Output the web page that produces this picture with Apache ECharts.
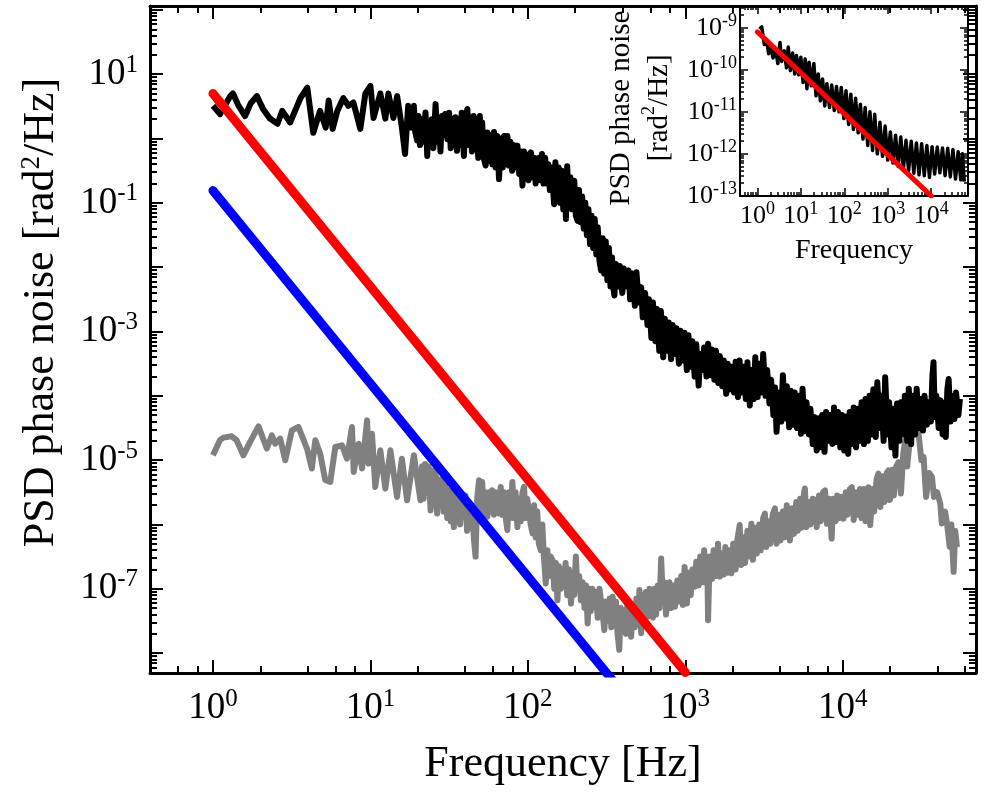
<!DOCTYPE html>
<html>
<head>
<meta charset="utf-8">
<title>PSD phase noise</title>
<script src="https://cdn.jsdelivr.net/npm/echarts@6/dist/echarts.min.js"></script>
<style>
  html, body { margin: 0; padding: 0; background: #fff; }
  #chart { width: 984px; height: 792px; }
</style>
</head>
<body>
<div id="chart"></div>
<script>
// curves, stored as [log10 frequency, log10 PSD]
var blackLog = [
  [0.00,0.51],[0.045,0.38],[0.11,0.66],[0.127,0.70],[0.16,0.52],[0.204,0.35],[0.24,0.55],[0.279,0.66],
  [0.32,0.45],[0.362,0.31],[0.41,0.23],[0.44,0.43],[0.49,0.25],[0.53,0.48],[0.556,0.63],[0.599,0.79],
  [0.637,0.09],[0.68,0.43],[0.716,0.17],[0.735,0.59],[0.76,0.15],[0.79,0.43],[0.828,0.63],[0.86,0.51],
  [0.892,0.56],[0.936,0.15],[0.968,0.70],[1.0,0.82],[1.02,0.32],[1.063,0.70],[1.095,0.31],[1.114,0.70],
  [1.146,0.32],[1.17,0.66],[1.20,0.17],[1.22,-0.24],[1.24,0.51],[1.26,0.17],[1.276,0.51],[1.285,0.1],
  [1.297,-0.03],[1.305,0.35],[1.315,-0.1],[1.325,0.3],[1.335,-0.05],[1.35,0.405],[1.361,-0.27],[1.37,0.25],
  [1.38,-0.1],[1.39,0.3],[1.40,-0.15],[1.414,0.535],[1.425,-0.05],[1.435,0.3],[1.445,-0.2],[1.455,0.35],
  [1.467,0.05],[1.475,0.38],[1.49,-0.01],[1.50,0.4],[1.51,-0.15],[1.52,0.3],[1.531,-0.1],[1.54,0.33],
  [1.55,-0.19],[1.56,0.3],[1.57,-0.1],[1.58,0.4],[1.594,-0.27],[1.605,0.3],[1.616,0.46],[1.625,-0.1],
  [1.635,0.3],[1.645,-0.2],[1.655,0.35],[1.665,-0.15],[1.675,0.3],[1.685,-0.3],[1.695,0.35],[1.70,-0.085],
  [1.71,0.25],[1.72,-0.3],[1.732,-0.42],[1.743,0.095],[1.755,-0.35],[1.765,0.05],[1.775,-0.4],[1.785,0.1],
  [1.795,-0.45],[1.805,0.04],[1.817,-0.63],[1.828,0.0],[1.84,-0.45],[1.85,0.04],[1.86,-0.4],[1.87,0.04],
  [1.88,-0.42],[1.89,-0.05],[1.90,-0.5],[1.91,-0.1],[1.92,-0.45],[1.934,-0.11],[1.945,-0.55],[1.955,-0.2],
  [1.966,-0.73],[1.975,-0.2],[1.985,-0.6],[1.995,-0.25],[2.005,-0.65],[2.02,-0.215],[2.03,-0.6],[2.04,-0.3],
  [2.05,-0.7],[2.06,-0.71],[2.07,-0.3],[2.08,-0.65],[2.09,-0.24],[2.10,-0.7],[2.11,-0.3],[2.12,-0.7],
  [2.13,-0.4],[2.14,-0.8],[2.15,-0.45],[2.167,-1.02],[2.175,-0.37],[2.185,-0.9],[2.195,-0.45],[2.205,-1.0],
  [2.215,-0.5],[2.225,-1.1],[2.235,-0.55],[2.242,-1.25],[2.25,-0.43],[2.26,-1.0],[2.27,-0.6],[2.28,-1.1],
  [2.295,-0.655],[2.305,-1.2],[2.316,-1.28],[2.325,-0.8],[2.335,-1.3],[2.345,-0.9],[2.355,-1.4],[2.365,-1.0],
  [2.375,-1.5],[2.385,-1.1],[2.395,-1.64],[2.405,-1.2],[2.415,-1.7],[2.425,-1.25],[2.435,-1.8],[2.444,-1.38],
  [2.455,-1.9],[2.465,-2.05],[2.475,-1.55],[2.485,-2.1],[2.495,-1.6],[2.505,-2.2],[2.515,-1.7],[2.525,-2.3],
  [2.535,-1.85],[2.545,-2.35],[2.55,-2.44],[2.56,-1.95],[2.575,-2.3],[2.585,-1.98],[2.60,-2.4],[2.61,-2.02],
  [2.625,-2.3],[2.64,-2.05],[2.65,-2.5],[2.665,-2.1],[2.68,-2.6],[2.69,-2.08],[2.705,-2.55],[2.72,-2.31],
  [2.73,-2.78],[2.745,-2.4],[2.76,-2.9],[2.77,-2.5],[2.785,-3.1],[2.795,-2.55],[2.81,-3.15],[2.82,-2.65],
  [2.835,-3.3],[2.845,-2.68],[2.86,-3.4],[2.87,-2.8],[2.885,-3.3],[2.895,-2.86],[2.91,-3.43],[2.92,-2.9],
  [2.935,-3.35],[2.945,-2.95],[2.96,-3.5],[2.97,-2.99],[2.985,-3.45],[2.995,-3.02],[3.01,-3.6],[3.02,-3.06],
  [3.035,-3.55],[3.045,-3.15],[3.06,-3.7],[3.07,-3.2],[3.085,-3.84],[3.095,-3.35],[3.11,-3.6],[3.12,-3.25],
  [3.135,-3.7],[3.145,-3.19],[3.16,-3.68],[3.17,-3.28],[3.185,-3.75],[3.195,-3.3],[3.21,-3.8],[3.22,-3.38],
  [3.235,-3.85],[3.245,-3.45],[3.26,-3.97],[3.27,-3.5],[3.285,-3.9],[3.295,-3.55],[3.31,-3.95],[3.32,-3.47],
  [3.335,-4.02],[3.345,-3.45],[3.36,-3.95],[3.37,-3.55],[3.385,-4.05],[3.395,-3.48],[3.41,-4.15],[3.42,-3.6],
  [3.435,-4.05],[3.445,-3.40],[3.46,-4.02],[3.47,-3.5],[3.485,-3.95],[3.495,-3.35],[3.51,-4.0],[3.52,-3.6],
  [3.535,-4.12],[3.545,-3.75],[3.56,-4.3],[3.57,-3.87],[3.58,-4.56],[3.595,-3.95],[3.61,-4.4],[3.62,-3.68],
  [3.635,-4.35],[3.645,-3.85],[3.66,-4.49],[3.67,-3.92],[3.685,-4.45],[3.695,-3.95],[3.71,-4.5],[3.72,-4.0],
  [3.735,-4.59],[3.745,-3.89],[3.76,-4.55],[3.77,-4.1],[3.785,-4.6],[3.795,-4.2],[3.81,-4.75],[3.82,-4.33],
  [3.835,-4.85],[3.845,-4.35],[3.86,-4.8],[3.87,-4.3],[3.885,-4.87],[3.895,-4.25],[3.91,-4.7],[3.92,-4.3],
  [3.935,-4.75],[3.945,-4.18],[3.96,-4.72],[3.97,-4.25],[3.985,-4.8],[3.995,-4.3],[4.01,-4.85],[4.02,-4.32],
  [4.035,-4.9],[4.045,-4.25],[4.06,-4.75],[4.07,-4.18],[4.085,-4.8],[4.095,-4.2],[4.11,-4.7],[4.12,-4.1],
  [4.135,-4.75],[4.145,-4.05],[4.16,-4.7],[4.17,-4.0],[4.185,-4.6],[4.195,-3.9],[4.21,-4.64],[4.22,-3.79],
  [4.235,-4.5],[4.245,-4.0],[4.26,-4.7],[4.27,-3.71],[4.285,-4.6],[4.295,-4.1],[4.31,-4.8],[4.32,-4.2],
  [4.335,-4.93],[4.345,-4.12],[4.36,-4.7],[4.37,-4.1],[4.385,-4.6],[4.395,-4.0],[4.41,-4.7],[4.42,-3.89],
  [4.435,-4.75],[4.445,-4.0],[4.46,-4.6],[4.47,-3.89],[4.485,-4.5],[4.495,-4.05],[4.51,-4.54],[4.52,-4.0],
  [4.535,-4.45],[4.545,-4.1],[4.56,-4.4],[4.57,-3.7],[4.577,-3.48],[4.585,-4.33],[4.595,-4.0],[4.61,-4.5],
  [4.62,-4.07],[4.635,-4.6],[4.645,-4.1],[4.655,-4.64],[4.665,-3.9],[4.673,-3.74],[4.685,-4.4],[4.695,-4.0],
  [4.71,-4.36],[4.72,-3.95],[4.735,-4.3],[4.745,-4.05]
];

var grayLog = [
  [0,-4.925],[0.044,-4.69],[0.066,-4.65],[0.119,-4.63],[0.15,-4.69],[0.193,-4.925],[0.235,-4.72],[0.289,-4.475],
  [0.342,-4.82],[0.374,-4.615],[0.395,-4.744],[0.427,-4.666],[0.459,-5.003],[0.501,-4.537],[0.543,-4.485],[0.597,-4.82],
  [0.628,-5.13],[0.65,-4.69],[0.681,-4.9],[0.713,-5.31],[0.745,-5.34],[0.777,-4.796],[0.82,-4.77],[0.851,-4.977],
  [0.883,-4.485],[0.894,-5.184],[0.925,-4.744],[0.947,-5.13],[0.979,-4.382],[0.989,-5.054],[1.01,-4.589],[1.031,-5.417],
  [1.063,-4.847],[1.095,-5.443],[1.127,-4.847],[1.169,-5.572],[1.2,-4.977],[1.233,-5.624],[1.276,-4.925],[1.318,-5.624],
  [1.328,-5.1],[1.338,-5.6],[1.348,-5.06],[1.36,-5.5],[1.37,-5.1],[1.382,-5.78],[1.392,-5.16],[1.404,-5.7],
  [1.414,-5.2],[1.424,-5.83],[1.435,-5.3],[1.445,-5.7],[1.455,-5.3],[1.465,-5.8],[1.476,-5.4],[1.488,-5.9],
  [1.498,-5.47],[1.51,-5.95],[1.52,-5.5],[1.53,-6.04],[1.54,-5.55],[1.55,-5.95],[1.56,-5.5],[1.57,-6.0],
  [1.58,-5.6],[1.594,-5.78],[1.604,-5.55],[1.614,-6.1],[1.625,-5.65],[1.635,-6.05],[1.645,-5.7],[1.658,-6.245],
  [1.668,-6.5],[1.678,-5.6],[1.69,-5.314],[1.70,-5.8],[1.71,-5.34],[1.72,-5.85],[1.732,-5.5],[1.743,-5.88],
  [1.755,-5.5],[1.765,-5.8],[1.774,-5.47],[1.785,-5.85],[1.795,-5.5],[1.805,-5.75],[1.817,-5.83],[1.828,-5.417],
  [1.838,-5.85],[1.848,-5.5],[1.86,-5.9],[1.87,-6.09],[1.88,-5.5],[1.89,-5.9],[1.902,-5.34],[1.912,-5.9],
  [1.922,-5.5],[1.934,-6.04],[1.945,-5.6],[1.955,-5.95],[1.966,-5.5],[1.976,-5.417],[1.986,-5.9],[1.996,-5.6],
  [2.008,-5.573],[2.018,-6.0],[2.03,-6.14],[2.04,-5.7],[2.05,-6.2],[2.06,-5.8],[2.07,-6.3],[2.082,-6.40],
  [2.092,-6.0],[2.102,-6.5],[2.114,-6.918],[2.124,-6.4],[2.135,-6.8],[2.145,-6.5],[2.157,-6.556],[2.168,-7.0],
  [2.178,-6.6],[2.188,-7.18],[2.198,-6.65],[2.21,-7.0],[2.22,-6.7],[2.231,-6.918],[2.24,-6.6],[2.25,-7.1],
  [2.262,-6.7],[2.274,-7.23],[2.284,-6.8],[2.294,-7.1],[2.305,-6.50],[2.315,-7.0],[2.326,-6.8],[2.337,-7.18],
  [2.348,-6.9],[2.36,-7.3],[2.37,-6.95],[2.38,-7.54],[2.39,-7.0],[2.40,-7.35],[2.41,-7.0],[2.422,-7.28],
  [2.432,-7.05],[2.444,-7.45],[2.455,-7.0],[2.465,-6.97],[2.476,-7.4],[2.486,-7.643],[2.497,-7.2],[2.51,-7.5],
  [2.52,-7.15],[2.53,-7.6],[2.539,-7.125],[2.55,-7.55],[2.56,-7.2],[2.57,-7.7],[2.581,-7.95],[2.59,-7.3],
  [2.60,-7.6],[2.613,-7.33],[2.623,-7.7],[2.633,-7.2],[2.645,-7.6],[2.656,-7.746],[2.667,-7.3],[2.68,-7.6],
  [2.69,-7.15],[2.70,-7.5],[2.709,-7.02],[2.72,-7.69],[2.73,-7.1],[2.74,-7.5],[2.75,-7.05],[2.762,-7.435],
  [2.773,-7.0],[2.784,-6.97],[2.795,-7.45],[2.805,-7.0],[2.815,-7.4],[2.826,-6.95],[2.836,-7.3],[2.847,-6.53],
  [2.857,-7.125],[2.868,-6.9],[2.878,-7.4],[2.889,-7.07],[2.90,-6.9],[2.91,-7.3],[2.925,-6.95],[2.935,-7.28],
  [2.95,-6.87],[2.96,-7.2],[2.975,-6.8],[2.985,-7.25],[2.996,-6.66],[3.01,-7.23],[3.02,-6.75],[3.035,-7.1],
  [3.045,-6.7],[3.06,-6.97],[3.07,-6.58],[3.085,-6.95],[3.095,-6.5],[3.11,-6.9],[3.12,-6.4],[3.13,-6.87],
  [3.14,-6.6],[3.145,-7.49],[3.155,-6.5],[3.17,-6.85],[3.18,-6.4],[3.195,-6.8],[3.208,-6.3],[3.22,-6.81],
  [3.23,-6.45],[3.245,-6.78],[3.255,-6.35],[3.27,-6.75],[3.28,-6.4],[3.293,-6.76],[3.305,-6.3],[3.32,-6.7],
  [3.33,-6.25],[3.346,-6.01],[3.355,-6.63],[3.37,-6.2],[3.38,-6.6],[3.395,-6.1],[3.405,-6.5],[3.42,-5.99],
  [3.43,-6.55],[3.445,-6.05],[3.455,-6.45],[3.47,-6.0],[3.48,-6.4],[3.495,-5.9],[3.506,-5.83],[3.515,-6.35],
  [3.53,-5.95],[3.54,-6.3],[3.555,-5.85],[3.57,-5.75],[3.58,-6.3],[3.595,-5.85],[3.605,-6.25],[3.62,-5.8],
  [3.63,-6.2],[3.645,-5.7],[3.654,-5.68],[3.665,-6.25],[3.68,-5.75],[3.69,-6.15],[3.705,-5.65],[3.715,-6.1],
  [3.73,-5.6],[3.74,-6.05],[3.755,-5.5],[3.76,-5.44],[3.77,-6.04],[3.785,-5.65],[3.795,-6.0],[3.81,-5.6],
  [3.824,-5.62],[3.835,-6.04],[3.85,-5.55],[3.86,-5.95],[3.875,-5.5],[3.888,-5.47],[3.9,-5.99],[3.915,-5.6],
  [3.93,-6.22],[3.94,-5.6],[3.955,-5.95],[3.965,-5.55],[3.98,-5.9],[3.994,-5.57],[4.005,-5.91],[4.02,-5.5],
  [4.03,-5.85],[4.045,-5.45],[4.058,-5.42],[4.07,-5.93],[4.085,-5.5],[4.095,-5.85],[4.11,-5.45],[4.12,-5.9],
  [4.135,-5.45],[4.145,-5.95],[4.164,-5.42],[4.175,-6.01],[4.19,-5.45],[4.2,-5.8],[4.215,-5.3],[4.227,-5.21],
  [4.24,-5.73],[4.255,-5.25],[4.265,-5.65],[4.28,-5.2],[4.291,-5.16],[4.30,-5.62],[4.315,-5.15],[4.325,-5.55],
  [4.34,-5.1],[4.355,-5.03],[4.37,-5.52],[4.385,-4.9],[4.397,-4.69],[4.41,-5.1],[4.43,-4.6],[4.45,-4.407],
  [4.46,-4.5],[4.482,-4.589],[4.50,-5.0],[4.514,-4.95],[4.53,-5.572],[4.55,-5.2],[4.567,-5.26],[4.58,-5.572],
  [4.60,-5.5],[4.62,-5.675],[4.63,-5.986],[4.65,-5.8],[4.663,-5.986],[4.68,-6.35],[4.69,-6.0],[4.705,-6.737],
  [4.715,-6.1],[4.726,-6.35]
];

// 1/f^3 reference lines, main plot: [frequency, PSD]
var redLine = [[1, 5], [1000, 5e-9]];
var blueLine = [[1, 0.155], [1000, 1.55e-10]];

// inset curve, [log10 frequency, log10 PSD]
var insetBlackLog = [
  [0.05,-9.03],[0.10,-8.98],[0.16,-9.4],[0.21,-9.28],[0.26,-9.62],[0.31,-9.45],[0.36,-9.72],[0.42,-9.5],
  [0.47,-9.85],[0.52,-9.35],[0.56,-9.8],[0.62,-9.55],[0.67,-9.95],[0.71,-9.46],[0.76,-10.02],[0.81,-9.6],
  [0.86,-10.1],[0.90,-9.66],[0.95,-10.12],[1.0,-9.7],[1.05,-10.3],[1.10,-9.74],[1.14,-10.45],[1.19,-9.82],
  [1.24,-10.38],[1.30,-9.85],[1.35,-10.62],[1.40,-10.1],[1.45,-10.74],[1.50,-10.22],[1.55,-10.86],[1.60,-10.33],
  [1.66,-10.9],[1.71,-10.36],[1.77,-10.97],[1.82,-10.4],[1.88,-11.0],[1.93,-10.42],[1.99,-11.16],[2.04,-10.5],
  [2.10,-11.3],[2.15,-10.58],[2.21,-11.42],[2.26,-10.68],[2.32,-11.5],[2.37,-10.82],[2.43,-11.65],[2.48,-10.9],
  [2.54,-11.8],[2.59,-11.0],[2.65,-11.92],[2.70,-11.06],[2.76,-12.0],[2.82,-11.25],[2.88,-12.06],[2.94,-11.34],
  [3.00,-12.15],[3.06,-11.48],[3.12,-12.22],[3.18,-11.56],[3.24,-12.3],[3.30,-11.6],[3.36,-12.36],[3.42,-11.68],
  [3.48,-12.4],[3.54,-11.7],[3.60,-12.46],[3.66,-11.74],[3.72,-12.5],[3.78,-11.76],[3.84,-12.52],[3.90,-11.8],
  [3.96,-12.56],[4.02,-11.83],[4.08,-12.48],[4.14,-11.84],[4.20,-12.45],[4.26,-11.86],[4.32,-12.52],[4.38,-11.87],
  [4.44,-12.55],[4.50,-11.9],[4.56,-12.6],[4.62,-11.95],[4.68,-12.62],[4.72,-12.0],[4.76,-12.66]
];
var insetRedLine = [[1, 8e-10], [1e4, 1e-13]];

// axis ranges and tick labels
var mainX = [0.398, 70300];
var mainY = [4.9e-9, 115];
var insetX = [0.398, 70300];
var insetY = [9.9e-14, 3.3e-9];
var mainXLabels = [1, 10, 100, 1000, 10000];
var mainYLabels = [10, 0.1, 1e-3, 1e-5, 1e-7];
var insetXLabels = [1, 10, 100, 1000, 10000];
var insetYLabels = [1e-9, 1e-10, 1e-11, 1e-12, 1e-13];

var font = 'Liberation Serif';

function toPoints(arr) {
  return arr.map(function (p) { return [Math.pow(10, p[0]), Math.pow(10, p[1])]; });
}
function decadeTicks(lo, hi, mults, range) {
  var out = [];
  for (var e = lo; e <= hi; e++) {
    mults.forEach(function (m) {
      var v = m * Math.pow(10, e);
      if (v >= range[0] && v <= range[1]) out.push(v);
    });
  }
  return out;
}
function powLabel(v) {
  return '{b|10}{s|' + Math.round(Math.log10(v)) + '}';
}

function buildAxes(dim, grid, range, labels, st) {
  var sides = dim === 'x' ? ['bottom', 'top'] : ['left', 'right'];
  var major = decadeTicks(-14, 5, [1], range);
  var minor = decadeTicks(-14, 5, st.mults, range);
  var tickStyle = { color: '#000', width: st.tickWidth };
  var axes = [];
  sides.forEach(function (pos, i) {
    axes.push({
      type: 'log', logBase: 10, gridIndex: grid, position: pos,
      min: range[0], max: range[1],
      axisLine: { show: true, onZero: false, lineStyle: { color: '#000', width: st.lineWidth } },
      axisTick: { show: true, inside: true, length: st.majorLen, customValues: major, lineStyle: tickStyle },
      axisLabel: i === 0 ? {
        show: true, customValues: labels, margin: st.margin, formatter: powLabel,
        rich: {
          b: { fontFamily: font, fontSize: st.fs, lineHeight: st.fs + 6, color: '#000' },
          s: { fontFamily: font, fontSize: st.sfs, lineHeight: st.sfs, verticalAlign: 'top', color: '#000' }
        }
      } : { show: false },
      splitLine: { show: false },
      name: i === 0 ? st.name : '',
      nameLocation: 'middle',
      nameGap: st.nameGap,
      nameTextStyle: st.nameStyle
    });
  });
  sides.forEach(function (pos) {
    axes.push({
      type: 'log', logBase: 10, gridIndex: grid, position: pos,
      min: range[0], max: range[1],
      axisLine: { show: false, onZero: false },
      axisTick: { show: true, inside: true, length: st.minorLen, customValues: minor, lineStyle: tickStyle },
      axisLabel: { show: false },
      splitLine: { show: false }
    });
  });
  return axes;
}

var supRich = function (fs) {
  return { s: { fontFamily: font, fontSize: Math.round(fs * 0.62), verticalAlign: 'top', lineHeight: Math.round(fs * 0.62) } };
};

var xAxes = buildAxes('x', 0, mainX, mainXLabels, {
  mults: [2, 4, 6, 8], lineWidth: 3, tickWidth: 2, majorLen: 13, minorLen: 7, margin: 14, fs: 37, sfs: 25,
  name: 'Frequency [Hz]', nameGap: 68,
  nameStyle: { fontFamily: font, fontSize: 44, lineHeight: 46, color: '#000' }
}).concat(buildAxes('x', 1, insetX, insetXLabels, {
  mults: [2, 3, 4, 5, 6, 7, 8, 9], lineWidth: 2, tickWidth: 1.5, majorLen: 8, minorLen: 4, margin: 4, fs: 26, sfs: 18,
  name: 'Frequency', nameGap: 40,
  nameStyle: { fontFamily: font, fontSize: 28, lineHeight: 30, color: '#000' }
}));

var yAxes = buildAxes('y', 0, mainY, mainYLabels, {
  mults: [2, 3, 4, 5, 6, 7, 8, 9], lineWidth: 3, tickWidth: 2, majorLen: 13, minorLen: 7, margin: 12, fs: 37, sfs: 25,
  name: 'PSD phase noise [rad{s|2}/Hz]', nameGap: 86,
  nameStyle: { fontFamily: font, fontSize: 44, lineHeight: 46, color: '#000', padding: [0, 0, 0, 54], rich: supRich(44) }
}).concat(buildAxes('y', 1, insetY, insetYLabels, {
  mults: [2, 3, 4, 5, 6, 7, 8, 9], lineWidth: 2, tickWidth: 1.5, majorLen: 8, minorLen: 4, margin: 3, fs: 26, sfs: 18,
  name: 'PSD phase noise\n[rad{s|2}/Hz]', nameGap: 62,
  nameStyle: { fontFamily: font, fontSize: 29, lineHeight: 38, color: '#000', align: 'center', padding: [0, 14, 0, 0], rich: supRich(29) }
}));

var chart = echarts.init(document.getElementById('chart'));
chart.setOption({
  animation: false,
  backgroundColor: '#fff',
  grid: [
    { left: 150, top: 6, right: 8, bottom: 119, outerBoundsMode: 'none' },
    { left: 740, top: 6, width: 228, height: 190, outerBoundsMode: 'none', backgroundColor: '#fff', show: true, borderWidth: 0 }
  ],
  xAxis: xAxes,
  yAxis: yAxes,
  series: [
    { type: 'line', xAxisIndex: 0, yAxisIndex: 0, data: toPoints(grayLog), showSymbol: false,
      lineStyle: { color: '#808080', width: 6, join: 'round' } },
    { type: 'line', xAxisIndex: 0, yAxisIndex: 0, data: toPoints(blackLog), showSymbol: false,
      lineStyle: { color: '#000', width: 6, join: 'round' } },
    { type: 'line', xAxisIndex: 0, yAxisIndex: 0, data: blueLine, showSymbol: false,
      lineStyle: { color: '#0000ff', width: 9, cap: 'round' } },
    { type: 'line', xAxisIndex: 0, yAxisIndex: 0, data: redLine, showSymbol: false,
      lineStyle: { color: '#ff0000', width: 9, cap: 'round' } },
    { type: 'line', xAxisIndex: 4, yAxisIndex: 4, data: toPoints(insetBlackLog), showSymbol: false,
      lineStyle: { color: '#000', width: 3.5, join: 'round' } },
    { type: 'line', xAxisIndex: 4, yAxisIndex: 4, data: insetRedLine, showSymbol: false,
      lineStyle: { color: '#ff0000', width: 5, cap: 'round' } }
  ]
});
</script>
</body>
</html>
